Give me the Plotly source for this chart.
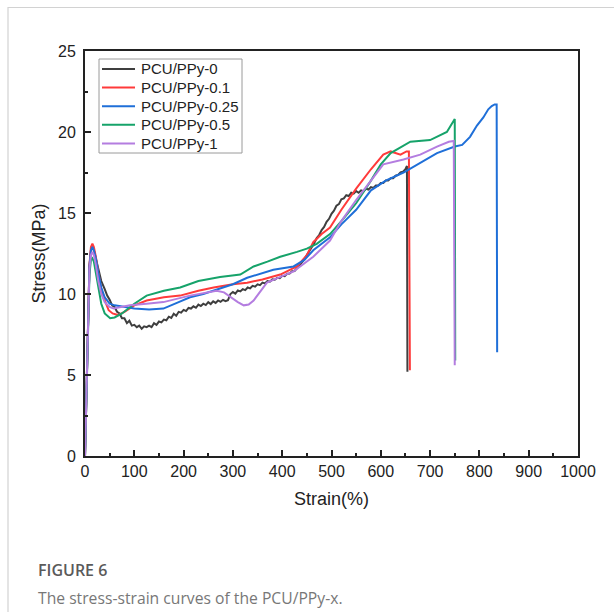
import plotly.graph_objects as go

# ---------------- data ----------------
black_x = [0, 3, 6, 9, 12, 15, 18, 22, 27, 33,
           40, 45, 50, 55, 60, 65, 70, 75, 80, 85, 90, 95, 100, 105, 110, 115, 120, 125, 130, 135,
           140, 145, 150, 155, 160, 165, 170, 175, 180, 185, 190, 195, 200, 205, 210, 215, 220, 225,
           230, 235, 240, 245, 250, 255, 260, 265, 270, 275, 280, 285, 290, 295, 300, 305, 310, 315,
           320, 325, 330, 335, 340, 345, 350, 355, 360, 365, 370, 375, 380, 385, 390, 395, 400, 405,
           410, 415, 420, 425, 430, 435, 440, 445, 450, 455, 460, 465, 470, 475, 480, 485, 490, 495,
           500, 505, 510, 515, 520, 525, 530, 535, 540, 545, 550, 555, 560, 565, 570, 575, 580, 585,
           590, 595, 600, 605, 610, 615, 620, 625, 630, 635, 640, 645, 650, 653, 654]
black_y = [0, 4.5, 9, 11.7, 12.7, 12.9, 12.7, 12.2, 11.5, 10.8,
           10.3, 9.9, 9.65, 9.3, 9.2, 8.9, 8.8, 8.5, 8.5, 8.2, 8.35, 8.05, 8.1, 7.95, 8.05, 7.85, 8.0, 7.95, 8.05, 7.95,
           8.2, 8.1, 8.3, 8.25, 8.42, 8.38, 8.6, 8.52, 8.78, 8.66, 8.9, 8.85, 9.02, 8.95, 9.14, 9.1, 9.24, 9.15,
           9.35, 9.26, 9.4, 9.32, 9.5, 9.38, 9.55, 9.45, 9.6, 9.52, 9.64, 9.56, 9.62, 10.0, 10.12, 10.02, 10.22, 10.16,
           10.3, 10.24, 10.4, 10.35, 10.5, 10.45, 10.6, 10.55, 10.7, 10.65, 10.8, 10.76, 10.9, 10.88, 11.0, 10.98, 11.12, 11.1,
           11.25, 11.26, 11.4, 11.42, 11.6, 11.74, 11.96, 12.14, 12.4, 12.64, 12.9, 13.14, 13.45, 13.64, 13.95, 14.14, 14.45, 14.64,
           14.95, 15.14, 15.45, 15.55, 15.85, 15.9, 16.1, 16.05, 16.25, 16.2, 16.35, 16.25, 16.4, 16.35, 16.5, 16.45, 16.6, 16.55,
           16.7, 16.7, 16.85, 16.85, 17.0, 17.0, 17.15, 17.15, 17.3, 17.35, 17.5, 17.55, 17.7, 17.9, 5.2]

red_x = [0, 3, 6, 9, 12, 15, 18, 22, 27, 33, 40, 48, 56, 67, 80, 100, 125, 160, 193, 230, 261, 300,
         329, 360, 396, 430, 450, 463, 480, 497, 520, 550, 580, 605, 620, 640, 652, 657, 659]
red_y = [0, 4.5, 9, 11.8, 12.9, 13.1, 12.9, 12.3, 11.3, 10.3, 9.6, 9.0, 8.8, 8.7, 8.9, 9.3, 9.6, 9.8,
         9.9, 10.2, 10.4, 10.6, 10.7, 10.9, 11.2, 11.7, 12.4, 13.2, 13.7, 14.1, 15.2, 16.5, 17.7, 18.6,
         18.8, 18.6, 18.8, 18.8, 5.3]

blue_x = [0, 3, 6, 9, 12, 15, 18, 22, 27, 33, 40, 50, 60, 80, 100, 130, 159, 190, 213, 240, 261, 300,
          329, 360, 382, 423, 445, 463, 480, 497, 520, 550, 580, 610, 646, 680, 714, 750, 765, 781, 795,
          808, 818, 825, 831, 835, 836]
blue_y = [0, 4.5, 9, 11.7, 12.7, 12.9, 12.7, 12.2, 11.3, 10.4, 9.8, 9.4, 9.3, 9.2, 9.1, 9.05, 9.1, 9.5,
          9.8, 10.0, 10.2, 10.6, 11.0, 11.3, 11.5, 11.7, 12.1, 12.7, 13.1, 13.5, 14.3, 15.2, 16.4, 17.0,
          17.5, 18.1, 18.7, 19.1, 19.2, 19.7, 20.4, 20.9, 21.4, 21.6, 21.7, 21.7, 6.4]

green_x = [0, 3, 6, 9, 12, 15, 18, 22, 27, 33, 40, 51, 60, 75, 100, 125, 160, 193, 230, 274, 315, 342,
           370, 396, 430, 450, 470, 497, 520, 550, 580, 600, 620, 660, 700, 720, 734, 746, 750, 751]
green_y = [0, 4, 8.5, 11.2, 12.1, 12.2, 12.0, 11.3, 10.3, 9.4, 8.8, 8.5, 8.55, 8.8, 9.4, 9.9, 10.2,
           10.4, 10.8, 11.05, 11.2, 11.7, 12.0, 12.3, 12.6, 12.8, 13.1, 13.7, 14.5, 15.6, 17.0, 18.0,
           18.7, 19.4, 19.5, 19.8, 20.0, 20.6, 20.8, 5.9]

purple_x = [0, 3, 6, 9, 12, 15, 18, 22, 27, 33, 40, 50, 58, 75, 91, 125, 159, 213, 267, 282, 295, 310,
            322, 332, 342, 355, 369, 400, 423, 463, 497, 520, 550, 580, 605, 646, 680, 714, 738, 748, 750]
purple_y = [0, 4, 8.5, 11.5, 12.4, 12.6, 12.4, 11.8, 10.8, 10.0, 9.5, 9.2, 9.1, 9.2, 9.3, 9.4, 9.5,
            9.9, 10.2, 10.1, 9.8, 9.5, 9.3, 9.35, 9.6, 10.1, 10.7, 11.1, 11.4, 12.3, 13.3, 14.5, 15.8,
            17.0, 18.0, 18.3, 18.6, 19.1, 19.4, 19.45, 5.6]

series_names = ["PCU/PPy-0", "PCU/PPy-0.1", "PCU/PPy-0.25", "PCU/PPy-0.5", "PCU/PPy-1"]
series_colors = ["#3f3f3f", "#ff3a3a", "#1f6fd8", "#16a36a", "#b47de0"]

x_tick_vals = [0, 100, 200, 300, 400, 500, 600, 700, 800, 900, 1000]
y_tick_vals = [0, 5, 10, 15, 20, 25]

# ---------------- figure ----------------
W, H = 614, 612
L, R, T, B = 85, 578, 51, 456
FONT = "Arial, Liberation Sans, sans-serif"

fig = go.Figure()
all_x = [black_x, red_x, blue_x, green_x, purple_x]
all_y = [black_y, red_y, blue_y, green_y, purple_y]
for nm, col, xs, ys in zip(series_names, series_colors, all_x, all_y):
    fig.add_trace(go.Scatter(x=xs, y=ys, mode="lines", name=nm,
                             line=dict(color=col, width=2)))

pw, ph = R - L, B - T


def px(x):
    return (x - L) / pw


def py(y):
    return (B - y) / ph


axis_font = dict(family=FONT, size=16, color="#222222")

fig.update_layout(
    width=W, height=H,
    margin=dict(l=L, r=W - R, t=T, b=H - B),
    paper_bgcolor="white", plot_bgcolor="white",
    showlegend=False,
    xaxis=dict(range=[0, 1000], tickvals=x_tick_vals, ticks="inside", ticklen=6, tickwidth=1.5,
               tickcolor="#222222", showline=True, linewidth=1.8, linecolor="#222222", mirror=True,
               showgrid=False, zeroline=False, tickfont=axis_font,
               minor=dict(dtick=50, ticks="inside", ticklen=3, tickwidth=1.5, tickcolor="#222222", showgrid=False),
               title=dict(text="Strain(%)", font=dict(family=FONT, size=18, color="#222222"),
                          standoff=13)),
    yaxis=dict(range=[0, 25], tickvals=y_tick_vals, ticks="inside", ticklen=6, tickwidth=1.5,
               tickcolor="#222222", showline=True, linewidth=1.8, linecolor="#222222", mirror=True,
               showgrid=False, zeroline=False, tickfont=axis_font, ticklabelstandoff=4,
               minor=dict(dtick=2.5, ticks="inside", ticklen=3, tickwidth=1.5, tickcolor="#222222", showgrid=False),
               title=dict(text="Stress(MPa)", font=dict(family=FONT, size=18, color="#222222"),
                          standoff=8)),
)

# legend box drawn in the layout (compact row spacing as in the reference)
fig.add_shape(type="rect", xref="paper", yref="paper", x0=px(99), x1=px(242), y0=py(153), y1=py(59),
              line=dict(color="#9a9a9a", width=1), fillcolor="white", layer="above")
for i, (nm, col) in enumerate(zip(series_names, series_colors)):
    yy = 69 + i * 18.6
    fig.add_shape(type="line", xref="paper", yref="paper", x0=px(102), x1=px(135), y0=py(yy), y1=py(yy),
                  line=dict(color=col, width=2))
    fig.add_annotation(xref="paper", yref="paper", x=px(139), y=py(yy), xanchor="left", yanchor="middle",
                       text=nm, showarrow=False, font=dict(family=FONT, size=15, color="#222222"))

# card border (left and top)
fig.add_shape(type="path", xref="paper", yref="paper",
              path=f"M {px(8)} {py(640)} L {px(8)} {py(7.5)} L {px(640)} {py(7.5)}",
              line=dict(color="#d2d2d2", width=1.2))

fig.add_annotation(xref="paper", yref="paper", x=px(36), y=py(570), xanchor="left", yanchor="middle",
                   text="FIGURE 6", showarrow=False,
                   font=dict(family="Open Sans, Noto Sans, sans-serif", size=16, color="#5a5a5a", weight=600))
fig.add_annotation(xref="paper", yref="paper", x=px(36), y=py(598), xanchor="left", yanchor="middle",
                   text="The stress-strain curves of the PCU/PPy-x.", showarrow=False,
                   font=dict(family="Open Sans, Noto Sans, sans-serif", size=15.7, color="#777777"))

fig.write_html("out.html", config={"displayModeBar": False},
               post_script="document.body.style.margin='0px';")
